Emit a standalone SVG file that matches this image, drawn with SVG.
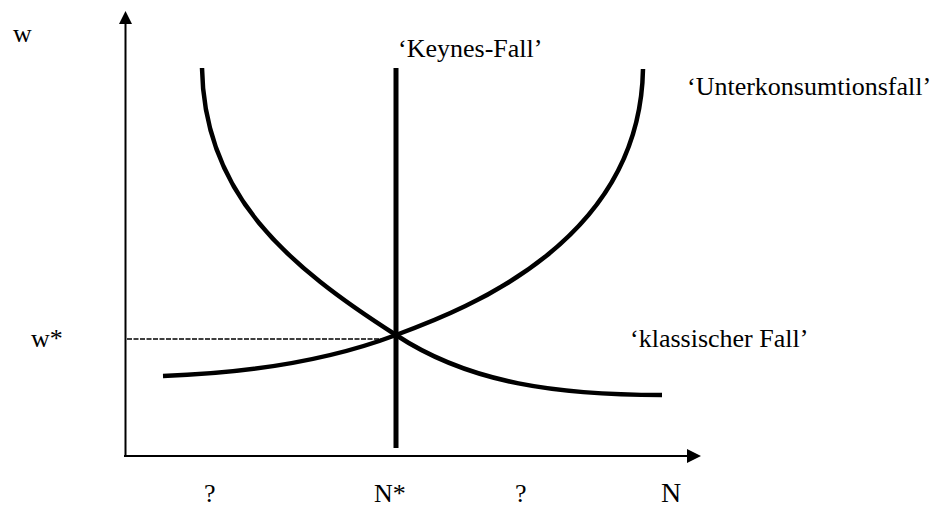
<svg xmlns="http://www.w3.org/2000/svg" width="942" height="508" viewBox="0 0 942 508">
<style>
.t{font-family:"Liberation Serif","Times New Roman","DejaVu Serif",serif;font-size:26px;fill:#000}
.axis{stroke:#000;stroke-width:2;fill:none}
.curve{stroke:#000;stroke-width:4.5;fill:none}
.head{fill:#000}
</style>
<rect width="942" height="508" fill="#fff"/>
<g id="axes">
<line class="axis" x1="125.5" y1="22" x2="125.5" y2="455"/>
<polygon class="head" points="125.5,11 119,24 132,24"/>
<line class="axis" x1="124" y1="456" x2="689" y2="456"/>
<polygon class="head" points="701,456 687,449 687,463"/>
</g>
<g id="connectors">
<line x1="127" y1="339" x2="382" y2="339" stroke="#000" stroke-width="1.5" stroke-dasharray="5,1.5"/>
<path id="curveA" class="curve" d="M202,68 C204,195 288,266 396,335 C470,384 560,395 662,395"/>
<path id="curveB" class="curve" d="M163,376 C250,373 330,360 396,335 C470,308 640,240 643,69"/>
<line id="keynes" x1="396" y1="68" x2="396" y2="448" stroke="#000" stroke-width="5"/>
</g>
<g id="labels">
<text class="t" x="13" y="42">w</text>
<text class="t" x="31" y="347">w*</text>
<text class="t" x="398" y="57">‘Keynes-Fall’</text>
<text class="t" x="687" y="95">‘Unterkonsumtionsfall’</text>
<text class="t" x="630" y="347">‘klassischer Fall’</text>
<text class="t" x="204" y="502">?</text>
<text class="t" x="374" y="502">N*</text>
<text class="t" x="515" y="502">?</text>
<text class="t" x="661" y="502" style="font-size:28px">N</text>
</g>
</svg>
